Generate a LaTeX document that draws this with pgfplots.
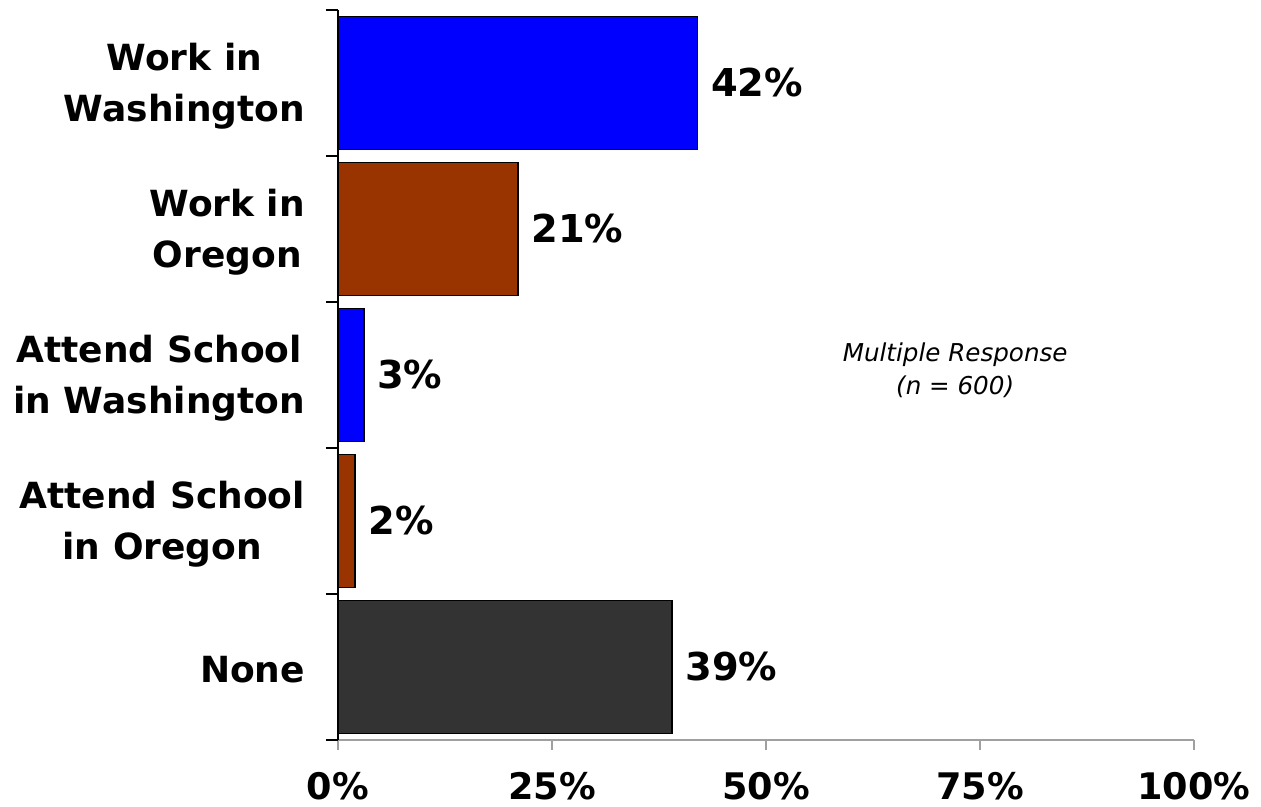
\documentclass[border=0pt]{standalone}
\usepackage{pgfplots}
\pgfplotsset{compat=1.18}
\usepackage{fontspec}
\setmainfont{DejaVu Sans}
\definecolor{cblue}{HTML}{0000FF}
\definecolor{cbrown}{HTML}{993300}
\definecolor{cdark}{HTML}{333333}
\definecolor{axgray}{HTML}{A0A0A0}
\begin{document}
\begin{tikzpicture}
\useasboundingbox (-169bp,-33.5bp) rectangle (461.5bp,370bp);
\begin{axis}[
  at={(0,0)}, anchor=south west,
  scale only axis, width=428bp, height=365bp,
  xmin=0, xmax=100, ymin=-0.5, ymax=4.5,
  axis x line=bottom, axis y line=left,
  axis line style={-},
  x axis line style={axgray, line width=1pt},
  y axis line style={black, line width=0.8pt},
  xtick={0,25,50,75,100},
  xticklabels={0\%,25\%,50\%,75\%,100\%},
  ytick={0,1,2,3,4},
  yticklabels={None,{Attend School\\in Oregon},{Attend School\\in Washington},{Work in\\Oregon},{Work in\\Washington}},
  minor ytick={-0.5,0.5,1.5,2.5,3.5,4.5},
  tick align=outside,
  major tick length=5bp, minor tick length=6bp,
  x tick style={axgray, line width=1pt},
  y tick style={draw=none},
  minor y tick style={black, line width=0.8pt, draw=black},
  xticklabel style={font=\bfseries\fontsize{18.3bp}{22bp}\selectfont, yshift=-7.5bp},
  yticklabel style={font=\bfseries\fontsize{18bp}{25.5bp}\selectfont, align=center, xshift=-8bp, yshift=-1.5bp},
  xbar, bar shift=0pt, bar width=0.91,
  nodes near coords={\pgfplotspointmeta\%},
  point meta=explicit symbolic,
  every node near coord/.append style={font=\bfseries\fontsize{19.2bp}{22bp}\selectfont, anchor=west, xshift=3bp, black},
  clip=false,
]
\addplot[fill=cblue, draw=black, line width=0.9pt] coordinates {(42,4) [42]};
\addplot[fill=cbrown, draw=black, line width=0.9pt] coordinates {(21,3) [21]};
\addplot[fill=cblue, draw=black, line width=0.9pt] coordinates {(3,2) [3]};
\addplot[fill=cbrown, draw=black, line width=0.9pt] coordinates {(2,1) [2]};
\addplot[fill=cdark, draw=black, line width=0.9pt] coordinates {(39,0) [39]};
\node[align=center, font=\itshape\fontsize{12.3bp}{16.5bp}\selectfont] at (axis cs:72.1,2.03) {Multiple Response\\(n = 600)};
\end{axis}
\end{tikzpicture}
\end{document}
